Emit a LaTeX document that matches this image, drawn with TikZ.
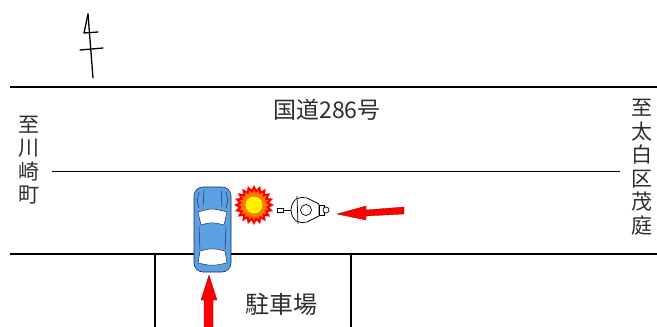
\documentclass[tikz,border=0pt]{standalone}
\usepackage{fontspec}
\newfontfamily\jpfont{Noto Sans CJK JP}
\usetikzlibrary{shapes.geometric}
\definecolor{carBlue}{RGB}{92,160,228}
\definecolor{carEdge}{RGB}{25,45,85}
\definecolor{textGray}{RGB}{45,45,45}
\definecolor{blastOrange}{RGB}{255,120,0}
\begin{document}
\begin{tikzpicture}[
        x=1pt, y=-1pt,
        roadLine/.style={draw=black,line width=1.6pt},
        centerLine/.style={draw=black,line width=0.8pt},
        northLine/.style={draw=black,line width=1.3pt,line cap=round,line join=round},
        placeName/.style={font=\jpfont\fontsize{21}{23.5}\selectfont,
                          text=textGray,align=center,inner sep=0pt},
        redArrow/.style={fill=red,draw=red!55!black,line width=0.3pt,line join=round},
        carBody/.style={fill=carBlue,draw=carEdge,line width=0.6pt},
        carGlass/.style={fill=white,draw=carEdge,line width=0.5pt},
        bikeLine/.style={draw=black,line width=0.7pt,fill=white}]
    \useasboundingbox (0,0) rectangle (657,327);

    % north mark
    \draw[northLine] (88,14) -- (84,33) -- (98,32);
    \draw[northLine] (88,14) -- (93,78);
    \draw[northLine] (80,50) -- (103,48);

    % road edges and center line
    \draw[roadLine] (10,87) -- (657,87);
    \draw[roadLine] (10,254) -- (657,254);
    \draw[centerLine] (52,171) -- (620,171);

    % parking lot
    \draw[roadLine] (155,254) -- (155,327);
    \draw[roadLine] (351,254) -- (351,327);

    % labels
    \node[placeName,font=\jpfont\fontsize{23}{26}\selectfont] (road) at (327,110) {国道286号};
    \node[placeName] (west) at (29,160) {至\\川\\崎\\町};
    \node[placeName] (east) at (642,167) {至\\太\\白\\区\\茂\\庭};
    \node[placeName,font=\jpfont\fontsize{24}{26}\selectfont] (lot) at (281,304) {駐車場};

    % car leaving the lot
    \draw[carBody,rounded corners=9pt] (194,187) rectangle (231,272);
    \draw[carGlass] (198,212) .. controls (212,208) .. (227,212)
        -- (224,225) .. controls (212,222) .. (201,225) -- cycle;
    \draw[carGlass] (200,251) .. controls (212,248) .. (225,251)
        -- (227,263) .. controls (212,266) .. (198,263) -- cycle;
    \draw[carEdge,line width=0.5pt] (199,227) -- (200,249);
    \draw[carEdge,line width=0.5pt] (226,227) -- (225,249);
    \draw[carEdge,line width=0.5pt] (199,192) .. controls (197,200) .. (199,208);
    \draw[carEdge,line width=0.5pt] (226,192) .. controls (228,200) .. (226,208);
    \draw[carEdge,line width=0.5pt] (204,190) -- (203,206);
    \draw[carEdge,line width=0.5pt] (221,190) -- (222,206);

    % impact
    \node[star,star points=20,star point ratio=1.3,minimum size=40pt,
          fill=red,inner sep=0pt] (blast) at (254,205) {};
    \node[star,star points=20,star point ratio=1.25,minimum size=30pt,
          fill=blastOrange,inner sep=0pt] at (blast) {};
    \node[circle,fill=yellow,minimum size=17pt,inner sep=0pt] at (blast) {};

    % motorcycle heading west
    \draw[bikeLine] (277,210) -- (292,210);
    \draw[bikeLine] (277,208) rectangle (283,212);
    \draw[bikeLine] (291,210) .. controls (292,198) and (300,196) .. (307,198)
        -- (319,204) -- (319,216) -- (307,222)
        .. controls (300,224) and (292,222) .. (291,210) -- cycle;
    \draw[bikeLine] (297,196) -- (298,224);
    \draw[bikeLine] (306,210) circle (5.5);
    \draw[bikeLine] (319,205) rectangle (324,215);
    \draw[bikeLine] (326,210) circle (3);

    % directions of travel
    \draw[redArrow] (337,214) -- (366,206) -- (366,210) -- (404,207)
        -- (404,214) -- (366,216) -- (366,220) -- cycle;
    \draw[redArrow] (209,275) -- (217,300) -- (213,300) -- (213,327)
        -- (204,327) -- (204,300) -- (201,300) -- cycle;
\end{tikzpicture}
\end{document}
